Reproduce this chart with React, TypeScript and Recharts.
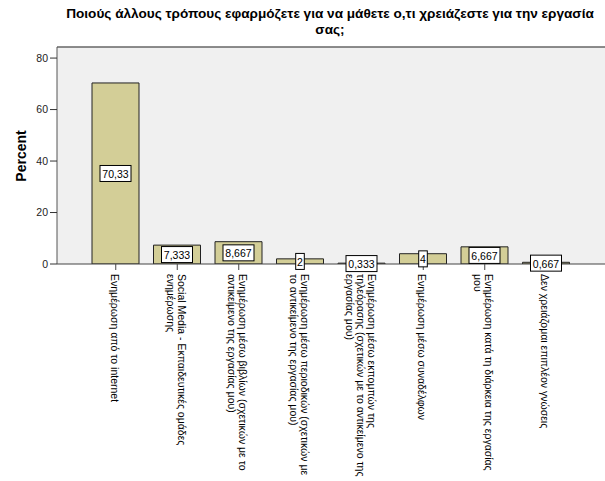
import { BarChart, Bar, XAxis, YAxis, CartesianGrid, LabelList, ReferenceLine } from 'recharts'

const categories = [
  'Ενημέρωση από το internet',
  'Social Media - Εκπαιδευτικές ομάδες\nενημέρωσης',
  'Ενημέρωση μέσω βιβλίων (σχετικών με το\nαντικείμενο της εργασίας μου)',
  'Ενημέρωση μέσω περιοδικών (σχετικών με\nτο αντικείμενο της εργασίας μου)',
  'Ενημέρωση μέσω εκπομπών της\nτηλεόρασης (σχετικών με το αντικείμενο της\nεργασίας μου)',
  'Ενημέρωση μέσω συναδέλφων',
  'Ενημέρωση κατά τη διάρκεια της εργασίας\nμου',
  'Δεν χρειάζομαι επιπλέον γνώσεις',
]
const percents = [70.33, 7.333, 8.667, 2, 0.333, 4, 6.667, 0.667]
const percentLabels = ['70,33', '7,333', '8,667', '2', '0,333', '4', '6,667', '0,667']
const yTicks = [0, 20, 40, 60, 80]

const data = categories.map((c, i) => ({ name: c, value: percents[i], label: percentLabels[i] }))

const FONT = '"Liberation Sans", Arial, sans-serif'

const RotatedTick = ({ x, y, payload }: any) => {
  const lines = String(payload.value).split('\n')
  const lh = 11
  const n = lines.length
  return (
    <g transform={`translate(${x - 1},${y + 2}) rotate(90)`}>
      {lines.map((l, i) => (
        <text
          key={i}
          x={0}
          y={(i - (n - 1) / 2) * lh}
          dominantBaseline="central"
          textAnchor="start"
          fontSize={10.5}
          fontFamily={FONT}
          fill="#000"
        >
          {l}
        </text>
      ))}
    </g>
  )
}

const ValueBox = ({ x, y, width, height, value }: any) => {
  const s = String(value)
  const w = s.length * 5.6 + 3
  const h = 16
  const cx = x + width / 2
  const cy = y + height / 2
  return (
    <g>
      <rect x={cx - w / 2} y={cy - h / 2} width={w} height={h} fill="#fff" stroke="#000" strokeWidth={1} />
      <text x={cx} y={cy + 0.5} textAnchor="middle" dominantBaseline="central" fontSize={10.5} fontFamily={FONT} fill="#000">
        {s}
      </text>
    </g>
  )
}

export default function App() {
  return (
    <div style={{ position: 'absolute', left: 0, top: 0, width: 605, height: 481, background: '#fff' }}>
      <div
        style={{
          position: 'absolute',
          left: 30,
          width: 600,
          top: 6,
          textAlign: 'center',
          fontFamily: FONT,
          fontWeight: 'bold',
          fontSize: 13.6,
          lineHeight: '16px',
          whiteSpace: 'nowrap',
        }}
      >
        Ποιούς άλλους τρόπους εφαρμόζετε για να μάθετε ο,τι χρειάζεστε για την εργασία
        <br />
        σας;
      </div>
      <div
        style={{
          position: 'absolute',
          left: 21,
          top: 156,
          transform: 'translate(-50%, -50%) rotate(-90deg)',
          fontFamily: FONT,
          fontWeight: 'bold',
          fontSize: 14,
          whiteSpace: 'nowrap',
        }}
      >
        Percent
      </div>
      <BarChart
        width={605}
        height={481}
        data={data}
        margin={{ top: 47, right: 0, bottom: 0, left: 0 }}
        style={{ position: 'absolute', left: 0, top: 0 }}
      >
        <CartesianGrid fill="#f0f0f0" horizontal={false} vertical={false} />
        <XAxis
          dataKey="name"
          interval={0}
          height={217}
          padding={{ left: 28, right: 28 }}
          tick={<RotatedTick />}
          tickSize={6}
          axisLine={{ stroke: '#444' }}
          tickLine={{ stroke: '#444' }}
        />
        <YAxis
          width={57}
          domain={[0, 84.3]}
          ticks={yTicks}
          allowDataOverflow
          tickSize={7}
          axisLine={{ stroke: '#555' }}
          tickLine={{ stroke: '#333' }}
          tick={{ fontSize: 10.5, fontFamily: FONT, fill: '#222' }}
        />
        <ReferenceLine y={84.3} stroke="#666" strokeWidth={1.5} ifOverflow="extendDomain" />
        <Bar dataKey="value" fill="#d3ce97" stroke="#222" strokeWidth={1} barSize={47} isAnimationActive={false}>
          <LabelList dataKey="label" content={<ValueBox />} />
        </Bar>
      </BarChart>
    </div>
  )
}
